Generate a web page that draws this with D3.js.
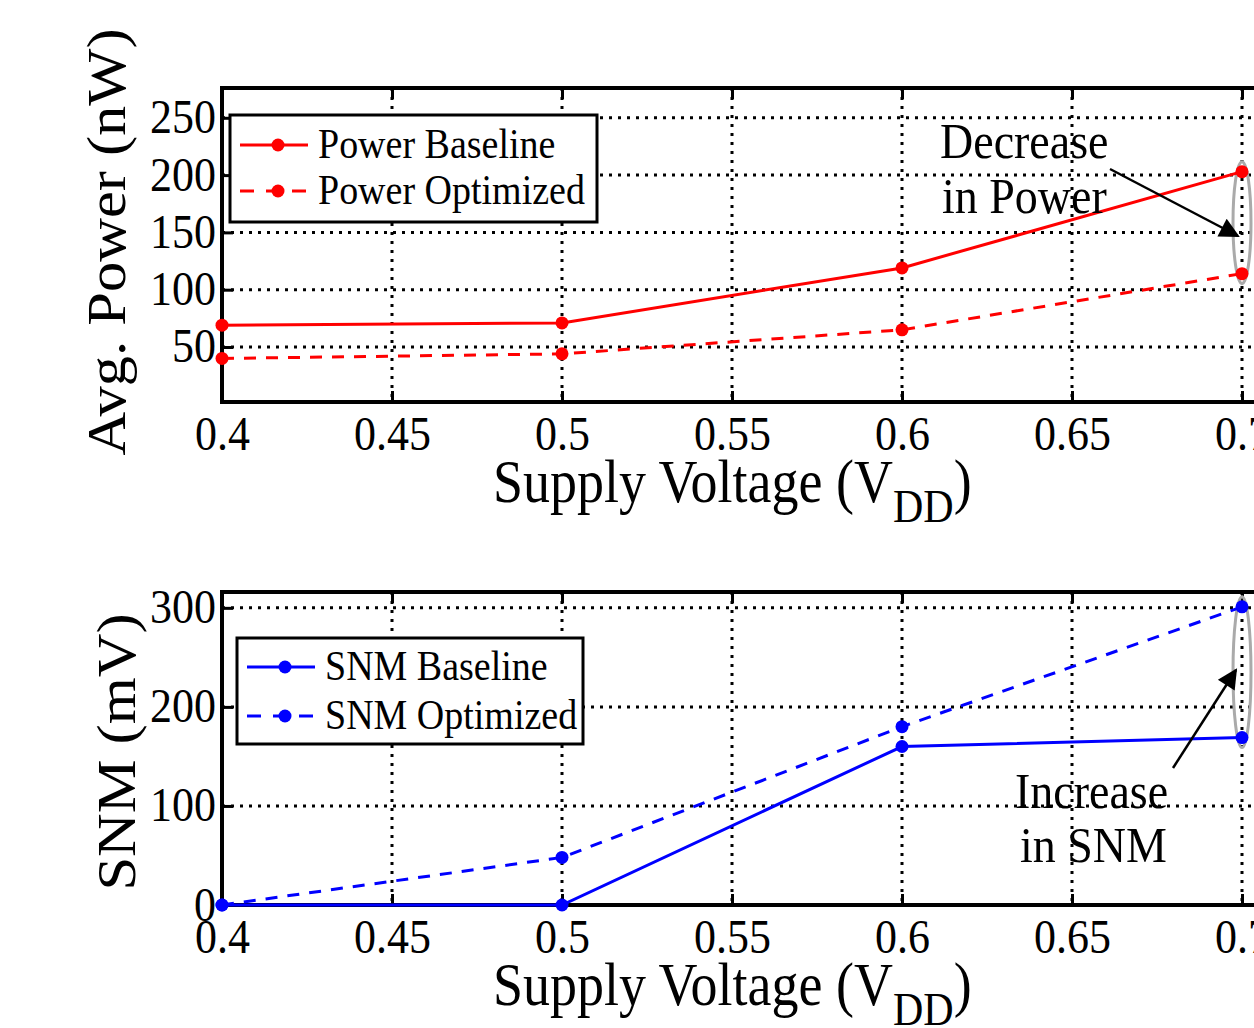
<!DOCTYPE html>
<html><head><meta charset="utf-8">
<script src="https://cdn.jsdelivr.net/npm/d3@7"></script>
<style>html,body{margin:0;padding:0;background:#fff;overflow:hidden}svg{display:block}</style>
</head><body>
<script>
const voltages = [0.4, 0.5, 0.6, 0.7];
const powerBaseline = [69, 71, 119, 203];
const powerOptimized = [40, 44, 65, 114];
const snmBaseline = [0, 0, 160, 169];
const snmOptimized = [0, 48, 180, 301];
const xTicks = [0.4, 0.45, 0.5, 0.55, 0.6, 0.65, 0.7];
const powerTicks = [50, 100, 150, 200, 250];
const snmTicks = [0, 100, 200, 300];
const powerLegend = ["Power Baseline", "Power Optimized"];
const snmLegend = ["SNM Baseline", "SNM Optimized"];

const W = 1254, H = 1028;
const FONT = "'Liberation Serif','Times New Roman',serif";
const svg = d3.select("body").append("svg").attr("width", W).attr("height", H);
svg.append("rect").attr("width", W).attr("height", H).attr("fill", "#fff");
const defs = svg.append("defs");
defs.append("marker").attr("id", "arr").attr("viewBox", "0 0 10 10").attr("refX", 9).attr("refY", 5)
  .attr("markerWidth", 24).attr("markerHeight", 20).attr("markerUnits", "userSpaceOnUse")
  .attr("orient", "auto")
  .append("path").attr("d", "M0,0 L10,5 L0,10 z").attr("fill", "#000");

const STRETCH = 1.12;
function stext(g, x, y, str, size, anchor) {
  return g.append("g").attr("transform", `translate(${x},${y}) scale(1,${STRETCH})`)
    .append("text").attr("font-family", FONT).attr("font-size", size)
    .attr("text-anchor", anchor || "start").attr("fill", "#000").text(str);
}

function panel(cfg) {
  const x = d3.scaleLinear().domain([0.4, 0.75]).range([222, 222 + 170 * 7]);
  const y = d3.scaleLinear().domain(cfg.yDomain).range([cfg.bottom, cfg.top]);
  const g = svg.append("g");
  const xl = x.range()[0], xr = x.range()[1];

  g.append("g").selectAll("line").data(xTicks.filter(v => v > 0.4 + 1e-9))
    .join("line").attr("x1", d => x(d)).attr("x2", d => x(d))
    .attr("y1", cfg.top).attr("y2", cfg.bottom)
    .attr("stroke", "#000").attr("stroke-width", 3).attr("stroke-dasharray", "3,6");
  g.append("g").selectAll("line").data(cfg.yTicks.filter(v => y(v) < cfg.bottom - 2 && y(v) > cfg.top + 2))
    .join("line").attr("x1", xl).attr("x2", xr)
    .attr("y1", d => y(d)).attr("y2", d => y(d))
    .attr("stroke", "#000").attr("stroke-width", 3).attr("stroke-dasharray", "3,6");

  const ax = g.append("g").attr("transform", `translate(0,${cfg.bottom})`)
    .call(d3.axisBottom(x).tickValues(xTicks).tickFormat(d3.format("~g")).tickSize(-11).tickPadding(0));
  ax.select(".domain").remove();
  ax.selectAll("line").attr("stroke-width", 3);
  ax.selectAll("text").attr("font-family", FONT).attr("font-size", 44).attr("dy", 0)
    .attr("y", 0).attr("transform", `translate(0,${cfg.xLabelY}) scale(1,${STRETCH})`);
  const axT = g.append("g").attr("transform", `translate(0,${cfg.top})`)
    .call(d3.axisTop(x).tickValues(xTicks).tickFormat("").tickSize(-11));
  axT.select(".domain").remove();
  axT.selectAll("line").attr("stroke-width", 3);

  const ay = g.append("g").attr("transform", `translate(${xl},0)`)
    .call(d3.axisLeft(y).tickValues(cfg.yTicks).tickSize(-11).tickPadding(6));
  ay.select(".domain").remove();
  ay.selectAll("line").attr("stroke-width", 3);
  ay.selectAll("text").attr("font-family", FONT).attr("font-size", 44).attr("dy", 0).attr("x", 0)
    .attr("transform", `translate(-6,15) scale(1,${STRETCH})`);

  g.append("rect").attr("x", xl).attr("y", cfg.top).attr("width", xr - xl).attr("height", cfg.bottom - cfg.top)
    .attr("fill", "none").attr("stroke", "#000").attr("stroke-width", 4);

  g.append("ellipse").attr("cx", x(0.7)).attr("cy", (y(cfg.series[0].vals[3]) + y(cfg.series[1].vals[3])) / 2)
    .attr("rx", 9).attr("ry", Math.abs(y(cfg.series[0].vals[3]) - y(cfg.series[1].vals[3])) / 2 + 10)
    .attr("fill", "none").attr("stroke", "#aaa").attr("stroke-width", 3);

  const line = d3.line().x((d, i) => x(voltages[i])).y(d => y(d));
  cfg.series.forEach(s => {
    g.append("path").datum(s.vals).attr("d", line).attr("fill", "none")
      .attr("stroke", cfg.color).attr("stroke-width", 3)
      .attr("stroke-dasharray", s.dash ? "12,10" : null);
    g.append("g").selectAll("circle").data(s.vals).join("circle")
      .attr("cx", (d, i) => x(voltages[i])).attr("cy", d => y(d)).attr("r", 6.5)
      .attr("fill", cfg.color);
  });

  const L = cfg.legend;
  g.append("rect").attr("x", L.x).attr("y", L.y).attr("width", L.w).attr("height", L.h)
    .attr("fill", "#fff").attr("stroke", "#000").attr("stroke-width", 3);
  cfg.series.forEach((s, i) => {
    const ly = L.y + L.rows[i];
    g.append("line").attr("x1", L.x + 10).attr("x2", L.x + 78).attr("y1", ly).attr("y2", ly)
      .attr("stroke", cfg.color).attr("stroke-width", 3).attr("stroke-dasharray", s.dash ? "14,12" : null);
    g.append("circle").attr("cx", L.x + 48).attr("cy", ly).attr("r", 6.5).attr("fill", cfg.color);
    stext(g, L.x + 88, ly + 13, cfg.labels[i], 38);
  });

  const tg = g.append("g").attr("transform", `translate(493,${cfg.titleY}) scale(1,${STRETCH})`);
  const tt = tg.append("text").attr("font-family", FONT).attr("font-size", 54).attr("fill", "#000");
  tt.append("tspan").text("Supply Voltage (V");
  tt.append("tspan").attr("font-size", 42).attr("dy", 18).text("DD");
  tt.append("tspan").attr("dy", -18).text(")");

  svg.append("text").attr("font-family", FONT).attr("font-size", cfg.yTitleSize).attr("fill", "#000")
    .attr("text-anchor", "middle")
    .attr("transform", `translate(${cfg.yTitleX},${cfg.yTitleY}) rotate(-90) scale(${STRETCH},1)`)
    .text(cfg.yTitle);
  return { g, x, y };
}

const topPanel = panel({
  top: 88, bottom: 402, yDomain: [2, 276], yTicks: powerTicks, color: "#ff0000",
  xLabelY: 48, titleY: 502,
  series: [{ vals: powerBaseline, dash: false }, { vals: powerOptimized, dash: true }],
  labels: powerLegend,
  legend: { x: 230, y: 115, w: 367, h: 107, rows: [30, 76] },
  yTitle: "Avg. Power (nW)", yTitleSize: 54, yTitleX: 125, yTitleY: 242
});
stext(topPanel.g, 940, 158, "Decrease", 46);
stext(topPanel.g, 942, 213, "in Power", 46);
topPanel.g.append("line").attr("x1", 1110).attr("y1", 169).attr("x2", 1238).attr("y2", 236)
  .attr("stroke", "#000").attr("stroke-width", 2.5).attr("marker-end", "url(#arr)");

const botPanel = panel({
  top: 592, bottom: 905, yDomain: [0, 316], yTicks: snmTicks, color: "#0000ff",
  xLabelY: 48, titleY: 1005,
  series: [{ vals: snmBaseline, dash: false }, { vals: snmOptimized, dash: true }],
  labels: snmLegend,
  legend: { x: 237, y: 638, w: 346, h: 106, rows: [29, 78] },
  yTitle: "SNM (mV)", yTitleSize: 54, yTitleX: 135, yTitleY: 752
});
stext(botPanel.g, 1015, 808, "Increase", 46);
stext(botPanel.g, 1020, 862, "in SNM", 46);
botPanel.g.append("line").attr("x1", 1173).attr("y1", 768).attr("x2", 1236).attr("y2", 670)
  .attr("stroke", "#000").attr("stroke-width", 2.5).attr("marker-end", "url(#arr)");
</script>
</body></html>
